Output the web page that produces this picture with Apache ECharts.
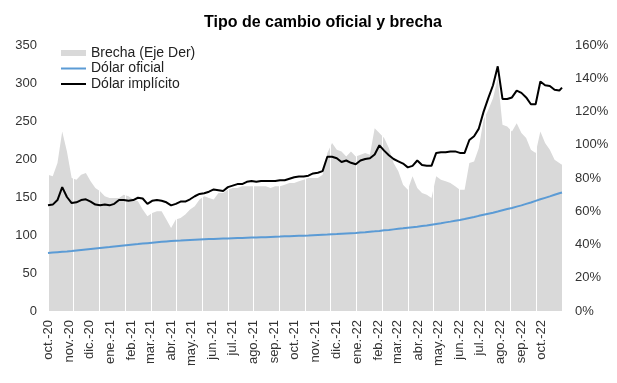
<!DOCTYPE html>
<html><head><meta charset="utf-8">
<script src="https://cdn.jsdelivr.net/npm/echarts@6/dist/echarts.min.js"></script>
<style>html,body{margin:0;padding:0;background:#fff}#c{width:617px;height:383px}</style>
</head><body><div id="c"></div>
<script>
var monthNames = ['ene.','feb.','mar.','abr.','may.','jun.','jul.','ago.','sep.','oct.','nov.','dic.'];
var dates = [
'2020-10-01','2020-10-08','2020-10-15','2020-10-22','2020-10-29','2020-11-05','2020-11-12','2020-11-19','2020-11-26','2020-12-03',
'2020-12-10','2020-12-17','2020-12-24','2020-12-31','2021-01-07','2021-01-14','2021-01-21','2021-01-28','2021-02-04','2021-02-11',
'2021-02-18','2021-02-25','2021-03-04','2021-03-11','2021-03-18','2021-03-25','2021-04-01','2021-04-08','2021-04-15','2021-04-22',
'2021-04-29','2021-05-06','2021-05-13','2021-05-20','2021-05-27','2021-06-03','2021-06-10','2021-06-17','2021-06-24','2021-07-01',
'2021-07-08','2021-07-15','2021-07-22','2021-07-29','2021-08-05','2021-08-12','2021-08-19','2021-08-26','2021-09-02','2021-09-09',
'2021-09-16','2021-09-23','2021-09-30','2021-10-07','2021-10-14','2021-10-21','2021-10-28','2021-11-04','2021-11-11','2021-11-18',
'2021-11-25','2021-12-02','2021-12-09','2021-12-16','2021-12-23','2021-12-30','2022-01-06','2022-01-13','2022-01-20','2022-01-27',
'2022-02-03','2022-02-10','2022-02-17','2022-02-24','2022-03-03','2022-03-10','2022-03-17','2022-03-24','2022-03-31','2022-04-07',
'2022-04-14','2022-04-21','2022-04-28','2022-05-05','2022-05-12','2022-05-19','2022-05-26','2022-06-02','2022-06-09','2022-06-16',
'2022-06-23','2022-06-30','2022-07-07','2022-07-14','2022-07-21','2022-07-28','2022-08-04','2022-08-11','2022-08-18','2022-08-25',
'2022-09-01','2022-09-08','2022-09-15','2022-09-22','2022-09-29','2022-10-06','2022-10-13','2022-10-20','2022-10-27','2022-10-31'
];
var dolarImplicito = [
139,140,146,163,150,142,143,146,147,144,
140,139,140,139,141,146,146,145,146,149,
148,141,145,146,145,143,139,141,144,144,
147,151,154,155,157,160,159,158,163,165,
167,167,170,171,170,171,171,171,171,172,
172,174,176,177,177,178,181,182,184,203,
203,201,196,198,195,193,198,200,201,206,
218,211,205,200,197,194,189,191,198,192,
191,191,208,209,209,210,210,208,208,225,
230,240,262,280,297,322,279,279,281,290,
287,281,272,272,302,297,296,291,290,294
];
var brecha = [
82,81,89,108,96,80,79,82,83,78,
74,72,69,68,68,68,70,69,67,66,
61,57,59,60,60,55,50,55,56,58,
61,63,67,69,68,67,71,71,73,74,
74,75,75,75,75,75,75,74,75,75,
76,77,77,78,79,80,80,80,82,95,
101,97,96,93,96,93,94,95,94,110,
107,104,98,89,84,76,73,81,74,71,
70,68,81,79,78,77,75,73,73,89,
90,98,115,121,128,140,112,111,108,113,
107,104,97,95,108,101,97,91,89,88
];
var dolarOficial = [
76.2,76.9,77.4,77.9,78.3,78.8,79.5,80.2,80.9,81.6,
82.3,83.0,83.6,84.1,84.8,85.5,86.2,86.9,87.6,88.1,
88.7,89.3,89.9,90.5,91.0,91.5,92.0,92.4,92.7,93.1,
93.5,93.8,94.1,94.4,94.7,94.9,95.1,95.3,95.5,95.7,
95.9,96.1,96.4,96.6,96.8,97.0,97.2,97.5,97.7,97.9,
98.2,98.4,98.7,98.9,99.1,99.3,99.6,99.9,100.2,100.5,
100.9,101.2,101.6,102.0,102.4,102.7,103.2,103.7,104.3,104.8,
105.4,106.1,106.7,107.4,108.1,108.8,109.6,110.3,111.0,111.8,
112.6,113.6,114.6,115.5,116.6,117.6,118.8,119.8,121.0,122.4,
123.7,125.2,126.6,128.0,129.4,130.9,132.5,134.1,135.6,137.3,
139.0,140.9,142.8,144.9,147.0,148.9,150.8,152.9,155.0,156.0
];
function zip(vals){ return dates.map(function(d,i){ return [d, vals[i]]; }); }
var chart = echarts.init(document.getElementById('c'), null, {renderer:'canvas'});
var FONT = 'Liberation Sans, Arial, sans-serif';
var noSym = {color: 'rgba(0,0,0,0)', borderWidth: 0, opacity: 0};
chart.setOption({
  animation: false,
  textStyle: {fontFamily: FONT},
  title: {text: 'Tipo de cambio oficial y brecha', left: 204, top: 15, padding: 0,
    textStyle: {fontFamily: FONT, fontSize: 16, fontWeight: 'bold', color: '#000'}},
  legend: {orient: 'vertical', left: 60, top: 46, padding: 0, itemWidth: 25, itemHeight: 6, itemGap: 1.5,
    textStyle: {fontFamily: FONT, fontSize: 14, color: '#222'},
    data: [{name: 'Brecha (Eje Der)', icon: 'rect', itemStyle: {color: '#d9d9d9'}},
           {name: 'Dólar oficial', itemStyle: noSym},
           {name: 'Dólar implícito', itemStyle: noSym}]},
  grid: {left: 48, right: 55, top: 45, bottom: 72},
  xAxis: [{
    type: 'time', min: '2020-10-01', max: '2022-10-31',
    minInterval: 28*86400000, maxInterval: 31*86400000, splitNumber: 25,
    axisLine: {show: false}, axisTick: {show: false}, splitLine: {show: false},
    axisLabel: {rotate: 90, margin: 9, interval: 0, fontFamily: FONT, fontSize: 13, color: '#333',
      showMaxLabel: false,
      formatter: function(v){ var d = new Date(v); return monthNames[d.getMonth()] + '-' + String(d.getFullYear()).slice(2); }}
  }, {
    type: 'value', min: -0.05, max: 19.95, interval: 1, position: 'top', z: 3,
    axisLine: {show: false}, axisTick: {show: false}, axisLabel: {show: false},
    splitLine: {show: true, lineStyle: {color: '#ffffff', width: 1}}
  }],
  yAxis: [{
    type: 'value', min: 0, max: 350, interval: 50,
    axisLine: {show: false}, axisTick: {show: false}, splitLine: {show: false},
    axisLabel: {margin: 11, fontFamily: FONT, fontSize: 13, color: '#333'}
  }, {
    type: 'value', min: 0, max: 160, interval: 20,
    axisLine: {show: false}, axisTick: {show: false}, splitLine: {show: false},
    axisLabel: {margin: 13, fontFamily: FONT, fontSize: 13, color: '#333', formatter: '{value}%'}
  }],
  series: [
    {name: 'Brecha (Eje Der)', type: 'line', yAxisIndex: 1, xAxisIndex: 0, symbol: 'none', z: 1,
      lineStyle: {width: 0, color: '#d9d9d9'}, itemStyle: {color: '#d9d9d9'},
      areaStyle: {color: '#d9d9d9', opacity: 1}, data: zip(brecha)},
    {name: 'Dólar oficial', type: 'line', yAxisIndex: 0, xAxisIndex: 0, symbol: 'none', z: 5,
      lineStyle: {width: 2, color: '#5b9bd5'}, itemStyle: {color: '#5b9bd5'}, data: zip(dolarOficial)},
    {name: 'Dólar implícito', type: 'line', yAxisIndex: 0, xAxisIndex: 0, symbol: 'none', z: 6,
      lineStyle: {width: 2, color: '#000'}, itemStyle: {color: '#000'}, data: zip(dolarImplicito)}
  ]
});
</script></body></html>
